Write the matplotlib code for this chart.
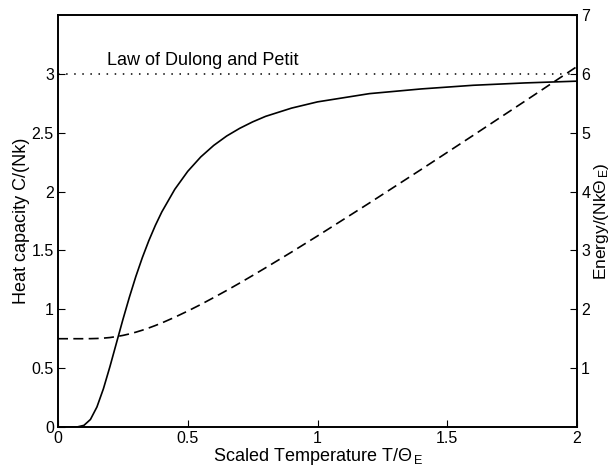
import matplotlib
matplotlib.use("Agg")
import matplotlib.pyplot as plt

plt.rcParams['font.family'] = ['Liberation Sans', 'DejaVu Sans']
plt.rcParams['mathtext.fontset'] = 'custom'
plt.rcParams['mathtext.rm'] = 'Liberation Sans'
plt.rcParams['mathtext.it'] = 'Liberation Sans'

# Scaled temperature T/Theta_E
t = [0.0, 0.05, 0.075, 0.1, 0.125, 0.15, 0.175, 0.2, 0.225, 0.25, 0.275, 0.3,
     0.325, 0.35, 0.375, 0.4, 0.45, 0.5, 0.55, 0.6, 0.65, 0.7, 0.75,
     0.8, 0.9, 1.0, 1.2, 1.4, 1.6, 1.8, 2.0]
# Heat capacity C/(Nk) (left axis)
heat_capacity = [0.0, 0.0, 0.001, 0.014, 0.064, 0.170, 0.325, 0.512, 0.712,
                 0.912, 1.102, 1.279, 1.439, 1.583, 1.712, 1.827, 2.019,
                 2.172, 2.294, 2.392, 2.472, 2.537, 2.592, 2.639, 2.709,
                 2.762, 2.832, 2.872, 2.903, 2.923, 2.938]
# Energy/(Nk Theta_E) (right axis)
energy = [1.5, 1.5, 1.5, 1.5, 1.501, 1.504, 1.510, 1.520, 1.536, 1.556,
          1.581, 1.611, 1.645, 1.683, 1.724, 1.768, 1.865, 1.970, 2.081,
          2.199, 2.320, 2.445, 2.574, 2.705, 2.972, 3.246, 3.806, 4.377,
          4.955, 5.538, 6.125]
dulong_petit = 3.0

fig = plt.figure(figsize=(6.14, 4.73), dpi=100)
ax = fig.add_axes([58/614, 1-427/473, (577-58)/614, (427-15)/473])
ax2 = ax.twinx()

ax.plot(t, heat_capacity, color='black', lw=1.2)
ax.plot([t[0], t[-1]], [dulong_petit, dulong_petit], color='black', lw=1.1,
        linestyle=(0, (1, 4.3)))
ax.text(0.19, 3.04, 'Law of Dulong and Petit', fontsize=13, va='bottom', ha='left')
ax2.plot(t, energy, color='black', lw=1.2, linestyle=(0, (6, 3.2)))

ax.set_xlim(0, 2)
ax.set_ylim(0, 3.5)
ax2.set_ylim(0, 7)
ax.set_xticks([0, 0.5, 1, 1.5, 2])
ax.set_xticklabels(['0', '0.5', '1', '1.5', '2'])
ax.set_yticks([0, 0.5, 1, 1.5, 2, 2.5, 3])
ax.set_yticklabels(['0', '0.5', '1', '1.5', '2', '2.5', '3'])
ax2.set_yticks([1, 2, 3, 4, 5, 6, 7])
ax2.set_yticklabels(['1', '2', '3', '4', '5', '6', '7'])

for a in (ax, ax2):
    a.tick_params(direction='in', length=5, width=0.8, labelsize=11.5, pad=3)
    for s in a.spines.values():
        s.set_linewidth(1.2)
ax.tick_params(axis='x', top=False)
ax.set_xlabel(r'Scaled Temperature T/$\Theta_{\,E}$', fontsize=13, labelpad=0)
ax.set_ylabel('Heat capacity C/(Nk)', fontsize=13, labelpad=1)
ax2.set_ylabel(r'Energy/(Nk$\Theta_{\,E}$)', fontsize=12.5, labelpad=1)

fig.savefig('out.png', dpi=100)
